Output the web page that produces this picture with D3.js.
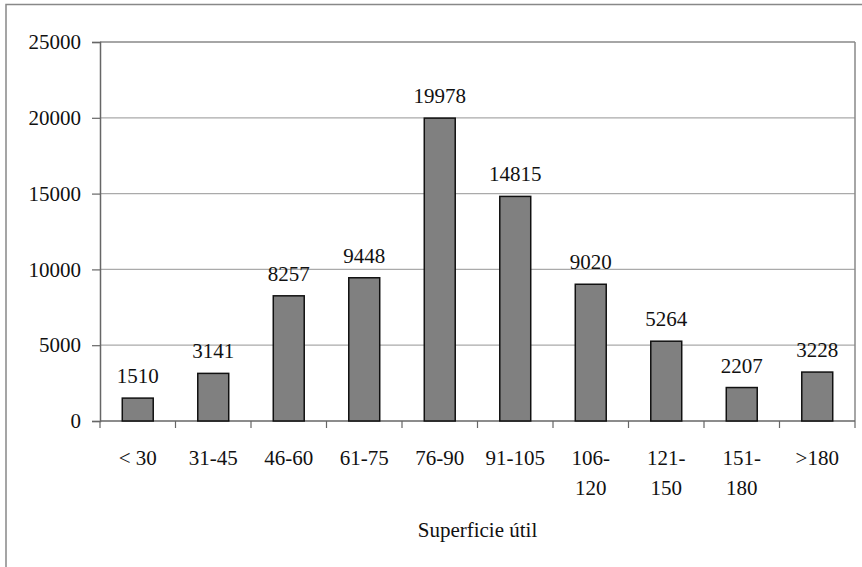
<!DOCTYPE html>
<html><head><meta charset="utf-8"><script src="https://cdn.jsdelivr.net/npm/d3@7"></script></head><body style="margin:0">
<svg id="c" width="862" height="567"></svg>
<script>
const categories = ["< 30","31-45","46-60","61-75","76-90","91-105","106-\n120","121-\n150","151-\n180",">180"];
const values = [1510,3141,8257,9448,19978,14815,9020,5264,2207,3228];
const yTicks = [0,5000,10000,15000,20000,25000];
const xTitle = "Superficie útil";

const fam = ["Liberation", "Serif"].join(" ");
const FONT = `'${fam}', serif`;
const svg = d3.select("#c");
const L=100,R=855,T=42,B=421;
const fs = 21;
function styleText(sel){ return sel.style("font-family",FONT).style("font-size",fs+"px").attr("fill","#111"); }

svg.append("rect").attr("x",6).attr("y",4.5).attr("width",900).attr("height",600)
  .attr("fill","none").attr("stroke","#888").attr("stroke-width",1.5);

const x = d3.scaleBand().domain(categories).range([L,R]).paddingInner(0.59).paddingOuter(0.295);
const xb = d3.scaleBand().domain(categories).range([L,R]);
const y = d3.scaleLinear().domain([0,25000]).range([B,T]);

svg.append("g").selectAll("line").data(yTicks.filter(d=>d>0)).join("line")
  .attr("x1",L).attr("x2",R).attr("y1",d=>y(d)).attr("y2",d=>y(d))
  .attr("stroke",d=>d===25000?"#888":"#aaa").attr("stroke-width",d=>d===25000?1.5:1.2);
svg.append("line").attr("x1",R).attr("x2",R).attr("y1",T).attr("y2",B).attr("stroke","#888").attr("stroke-width",1.5);

const ya = svg.append("g").attr("transform",`translate(${L},0)`)
  .call(d3.axisLeft(y).tickValues(yTicks).tickSize(8).tickPadding(11).tickFormat(d3.format("d")));
ya.attr("font-family",null).attr("font-size",null);
ya.select(".domain").attr("stroke","#666").attr("stroke-width",1.5);
ya.selectAll(".tick line").attr("stroke","#666").attr("stroke-width",1.2);
styleText(ya.selectAll("text"));

const boundaries = categories.map(c=>xb(c)).concat([R]);
svg.append("line").attr("x1",L).attr("x2",R).attr("y1",B).attr("y2",B).attr("stroke","#666").attr("stroke-width",1.5);
svg.append("g").selectAll("line").data(boundaries).join("line")
  .attr("x1",d=>d).attr("x2",d=>d).attr("y1",B).attr("y2",B+7).attr("stroke","#666").attr("stroke-width",1.2);

svg.append("g").selectAll("rect").data(values).join("rect")
  .attr("x",(d,i)=>x(categories[i])).attr("width",x.bandwidth())
  .attr("y",d=>y(d)).attr("height",d=>B-y(d))
  .attr("fill","#808080").attr("stroke","#111").attr("stroke-width",1.5);

styleText(svg.append("g").selectAll("text").data(values).join("text")
  .attr("x",(d,i)=>xb(categories[i])+xb.bandwidth()/2).attr("y",d=>y(d)-15)
  .attr("text-anchor","middle").text(d=>d));

const cl = styleText(svg.append("g").selectAll("text").data(categories).join("text")
  .attr("x",d=>xb(d)+xb.bandwidth()/2).attr("y",465).attr("text-anchor","middle"));
cl.each(function(d){
  const parts=d.split("\n");
  d3.select(this).selectAll("tspan").data(parts).join("tspan")
    .attr("x",xb(d)+xb.bandwidth()/2).attr("dy",(p,i)=>i===0?0:30).text(p=>p);
});

styleText(svg.append("text").attr("x",(L+R)/2).attr("y",537).attr("text-anchor","middle").text(xTitle));
</script></body></html>
